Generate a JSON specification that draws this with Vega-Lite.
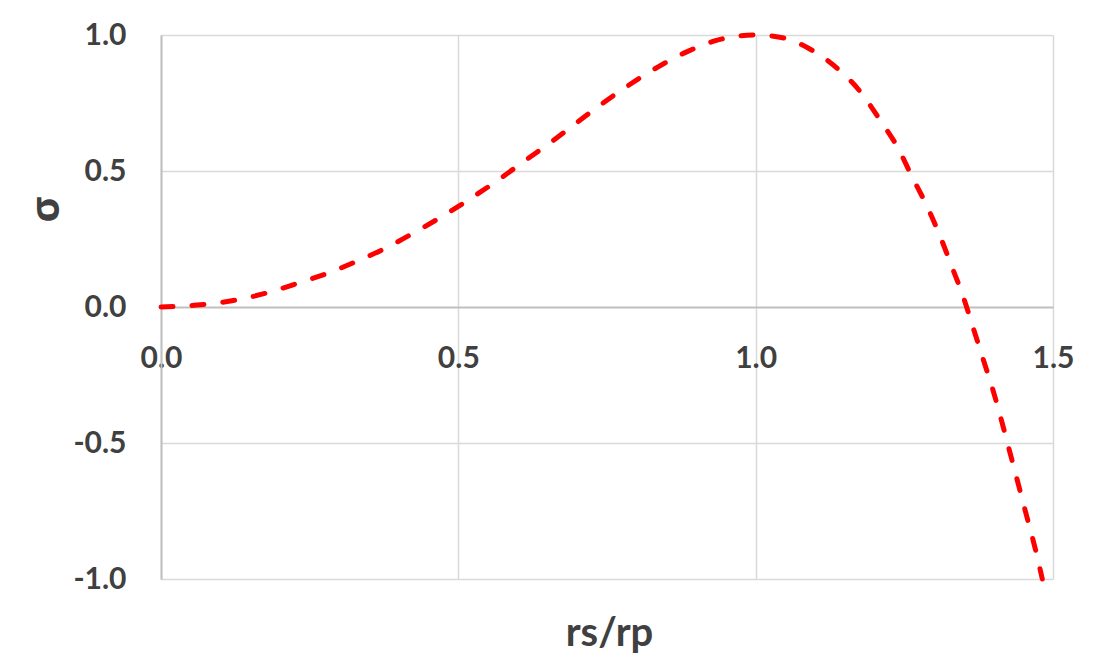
{
  "$schema": "https://vega.github.io/schema/vega-lite/v6.json",
  "width": 892,
  "height": 544,
  "autosize": {"type": "none"},
  "padding": {"left": 161, "top": 35, "right": 55, "bottom": 79},
  "background": "#ffffff",
  "config": {"view": {"stroke": null}},
  "data": {"values": [
    {"x": 0, "y": 0},
    {"x": 0.06, "y": 0.007},
    {"x": 0.119, "y": 0.023},
    {"x": 0.175, "y": 0.05},
    {"x": 0.228, "y": 0.086},
    {"x": 0.284, "y": 0.127},
    {"x": 0.329, "y": 0.168},
    {"x": 0.38, "y": 0.219},
    {"x": 0.427, "y": 0.275},
    {"x": 0.475, "y": 0.336},
    {"x": 0.52, "y": 0.398},
    {"x": 0.567, "y": 0.467},
    {"x": 0.612, "y": 0.538},
    {"x": 0.657, "y": 0.608},
    {"x": 0.7, "y": 0.679},
    {"x": 0.744, "y": 0.751},
    {"x": 0.789, "y": 0.819},
    {"x": 0.836, "y": 0.883},
    {"x": 0.884, "y": 0.938},
    {"x": 0.937, "y": 0.982},
    {"x": 1.0, "y": 1.0},
    {"x": 1.043, "y": 0.991},
    {"x": 1.094, "y": 0.945},
    {"x": 1.139, "y": 0.874},
    {"x": 1.178, "y": 0.786},
    {"x": 1.209, "y": 0.688},
    {"x": 1.239, "y": 0.586},
    {"x": 1.263, "y": 0.479},
    {"x": 1.288, "y": 0.371},
    {"x": 1.31, "y": 0.261},
    {"x": 1.33, "y": 0.148},
    {"x": 1.349, "y": 0.038},
    {"x": 1.366, "y": -0.078},
    {"x": 1.383, "y": -0.195},
    {"x": 1.399, "y": -0.305},
    {"x": 1.414, "y": -0.422},
    {"x": 1.428, "y": -0.538},
    {"x": 1.442, "y": -0.654},
    {"x": 1.456, "y": -0.771},
    {"x": 1.47, "y": -0.887},
    {"x": 1.482, "y": -1.0}
  ]},
  "mark": {"type": "line", "color": "#ff0000", "strokeWidth": 5, "strokeDash": [12, 19], "strokeCap": "round", "interpolate": "monotone", "clip": false},
  "encoding": {
    "x": {
      "field": "x", "type": "quantitative",
      "scale": {"domain": [0, 1.5], "nice": false, "zero": false},
      "axis": {
        "values": [0, 0.5, 1, 1.5], "format": ".1f",
        "grid": true, "gridColor": "#d9d9d9", "gridWidth": 1.5,
        "domain": false, "ticks": false,
        "labelPadding": -236, "labelBaseline": "top",
        "labelFont": "Lato", "labelFontSize": 30, "labelFontWeight": "bold", "labelColor": "#404040",
        "labelFlush": false, "labelOverlap": false,
        "title": "rs/rp", "titleFont": "Lato", "titleFontSize": 40, "titleFontWeight": "bold", "titleColor": "#404040",
        "titleX": 448, "titleY": 66, "titleBaseline": "alphabetic", "titleAlign": "center"
      }
    },
    "y": {
      "field": "y", "type": "quantitative",
      "scale": {"domain": [-1, 1], "nice": false, "zero": false},
      "axis": {
        "values": [-1, -0.5, 0, 0.5, 1],
        "labelExpr": "replace(format(datum.value, '.1f'), '\u2212', '-')",
        "grid": true,
        "gridColor": {"condition": {"test": "datum.value === 0", "value": "#bfbfbf"}, "value": "#d9d9d9"},
        "gridWidth": {"condition": {"test": "datum.value === 0", "value": 2}, "value": 1.5},
        "domain": true, "domainColor": "#bfbfbf", "domainWidth": 2,
        "ticks": false, "labelPadding": 35,
        "labelFont": "Lato", "labelFontSize": 30, "labelFontWeight": "bold", "labelColor": "#404040",
        "labelFlush": false, "labelOverlap": false,
        "title": "σ", "titleFont": "Open Sans", "titleFontSize": 40, "titleFontWeight": "bold", "titleColor": "#404040",
        "titleAngle": -90, "titleX": -115, "titleY": 174, "titleAlign": "center", "titleBaseline": "middle"
      }
    }
  }
}
